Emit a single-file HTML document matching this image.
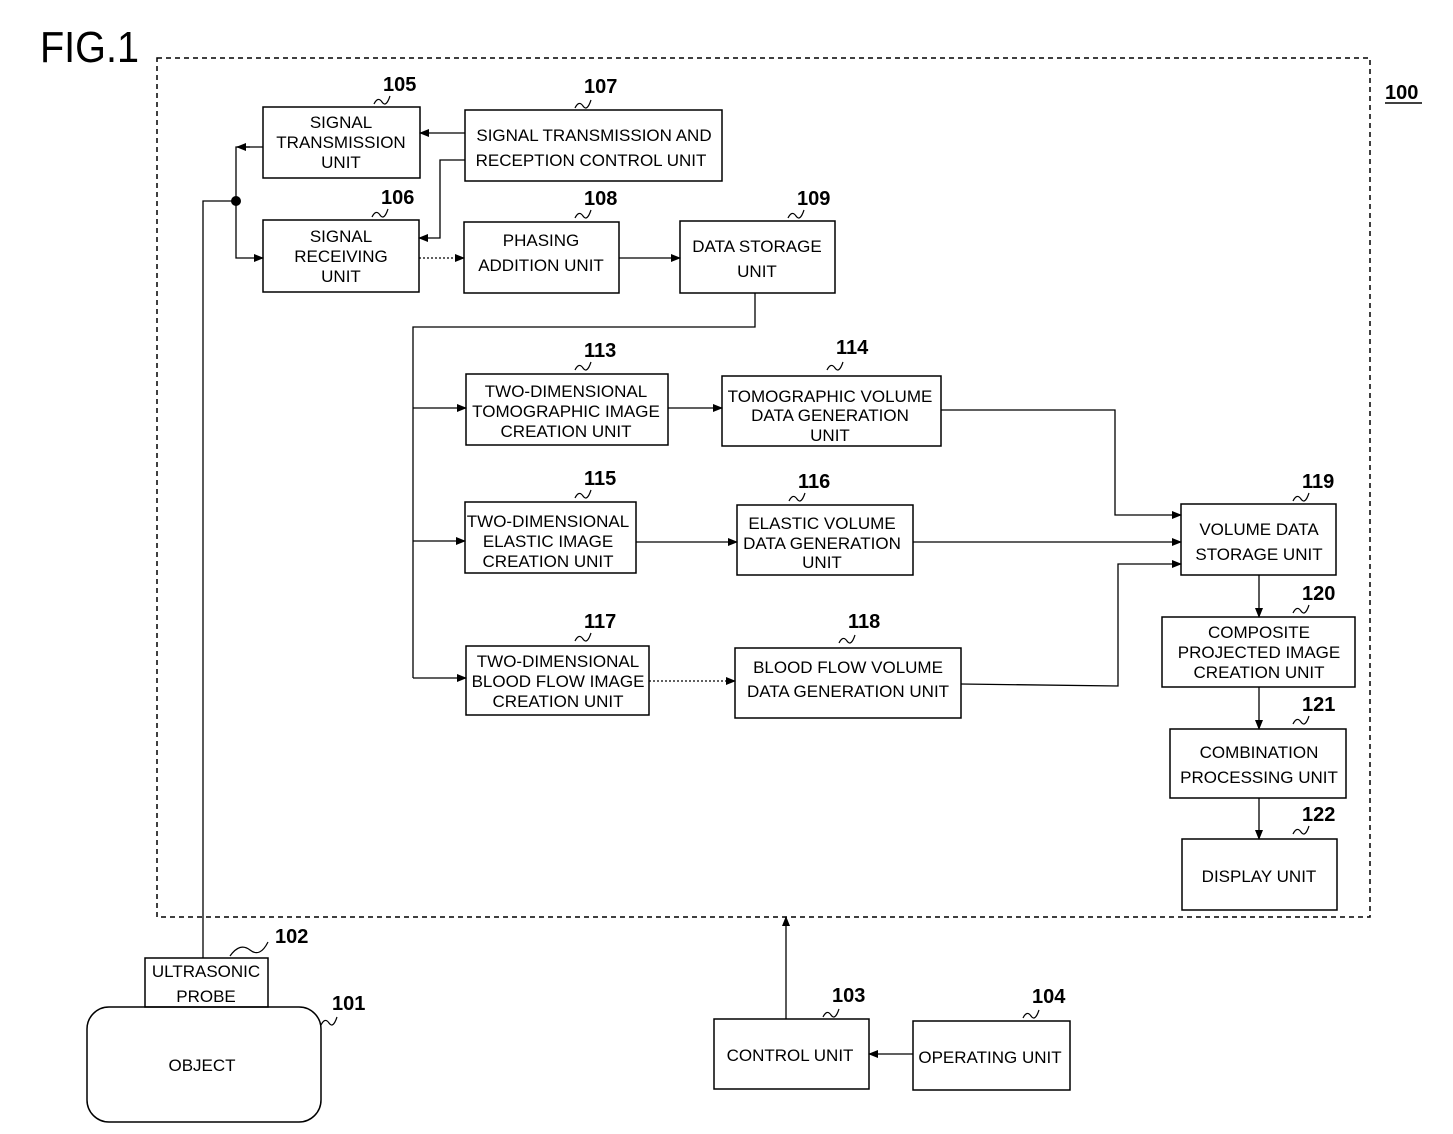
<!DOCTYPE html>
<html><head><meta charset="utf-8"><style>
html,body{margin:0;padding:0;background:#fff}
svg{display:block}
text{font-family:"Liberation Sans",sans-serif;fill:#000}
.t{font-size:17px;text-anchor:middle}
.n{font-size:20px;font-weight:bold}
</style></head><body>
<svg width="1453" height="1134" viewBox="0 0 1453 1134" xmlns="http://www.w3.org/2000/svg">
<defs><marker id="a" markerWidth="10" markerHeight="8" refX="9" refY="4" orient="auto" markerUnits="userSpaceOnUse"><path d="M0,0 L10,4 L0,8 z" fill="#000"/></marker></defs>
<text x="40" y="62" style="font-size:44px" transform="translate(40,0) scale(0.9,1) translate(-40,0)">FIG.1</text>
<rect x="157" y="58" width="1213" height="859" fill="none" stroke="#000" stroke-width="1.5" stroke-dasharray="5,4"/>
<text x="1385" y="99" class="n" style="font-size:20px">100</text>
<line x1="1385" y1="103" x2="1422" y2="103" stroke="#000" stroke-width="1.5"/>
<g fill="none" stroke="#000" stroke-width="1.5">
<rect x="263" y="107" width="157" height="71"/>
<rect x="465" y="110" width="257" height="71"/>
<rect x="263" y="220" width="156" height="72"/>
<rect x="464" y="222" width="155" height="71"/>
<rect x="680" y="221" width="155" height="72"/>
<rect x="466" y="374" width="202" height="71"/>
<rect x="722" y="376" width="219" height="70"/>
<rect x="465" y="502" width="171" height="71"/>
<rect x="737" y="505" width="176" height="70"/>
<rect x="466" y="646" width="183" height="69"/>
<rect x="735" y="648" width="226" height="70"/>
<rect x="1181" y="504" width="155" height="71"/>
<rect x="1162" y="617" width="193" height="70"/>
<rect x="1170" y="729" width="176" height="69"/>
<rect x="1182" y="839" width="155" height="71"/>
<rect x="145" y="958" width="123" height="49"/>
<rect x="87" y="1007" width="234" height="115" rx="22"/>
<rect x="714" y="1019" width="155" height="70"/>
<rect x="913" y="1021" width="157" height="69"/>
</g>
<g fill="none" stroke="#000" stroke-width="1.3">
<polyline points="203,958 203,201 236,201"/>
<polyline points="263,147 236,147 236,201" />
<polyline points="236,201 236,258 263,258" marker-end="url(#a)"/>
<line x1="250" y1="147" x2="237" y2="147" marker-end="url(#a)"/>
<line x1="465" y1="133" x2="420" y2="133" marker-end="url(#a)"/>
<polyline points="465,160 440,160 440,238 419,238" marker-end="url(#a)"/>
<line x1="419" y1="258" x2="464" y2="258" stroke-dasharray="2,2" marker-end="url(#a)"/>
<line x1="619" y1="258" x2="680" y2="258" marker-end="url(#a)"/>
<polyline points="755,293 755,327 413,327 413,678"/>
<line x1="413" y1="408" x2="466" y2="408" marker-end="url(#a)"/>
<line x1="413" y1="541" x2="465" y2="541" marker-end="url(#a)"/>
<line x1="413" y1="678" x2="466" y2="678" marker-end="url(#a)"/>
<line x1="668" y1="408" x2="722" y2="408" marker-end="url(#a)"/>
<line x1="636" y1="542" x2="737" y2="542" marker-end="url(#a)"/>
<line x1="649" y1="681" x2="735" y2="681" stroke-dasharray="2,2" marker-end="url(#a)"/>
<polyline points="941,410 1115,410 1115,515 1181,515" marker-end="url(#a)"/>
<line x1="913" y1="542" x2="1181" y2="542" marker-end="url(#a)"/>
<polyline points="961,684 1118,686 1118,564 1181,564" marker-end="url(#a)"/>
<line x1="1259" y1="575" x2="1259" y2="617" marker-end="url(#a)"/>
<line x1="1259" y1="687" x2="1259" y2="729" marker-end="url(#a)"/>
<line x1="1259" y1="798" x2="1259" y2="839" marker-end="url(#a)"/>
<line x1="786" y1="1019" x2="786" y2="917" marker-end="url(#a)"/>
<line x1="913" y1="1054" x2="869" y2="1054" marker-end="url(#a)"/>
</g>
<circle cx="236" cy="201" r="5" fill="#000"/>
<g class="t">
<text x="341" y="128">SIGNAL</text><text x="341" y="148">TRANSMISSION</text><text x="341" y="168">UNIT</text>
<text x="594" y="141">SIGNAL TRANSMISSION AND</text><text x="591" y="166">RECEPTION CONTROL UNIT</text>
<text x="341" y="242">SIGNAL</text><text x="341" y="262">RECEIVING</text><text x="341" y="282">UNIT</text>
<text x="541" y="246">PHASING</text><text x="541" y="271">ADDITION UNIT</text>
<text x="757" y="252">DATA STORAGE</text><text x="757" y="277">UNIT</text>
<text x="566" y="397">TWO-DIMENSIONAL</text><text x="566" y="417">TOMOGRAPHIC IMAGE</text><text x="566" y="437">CREATION UNIT</text>
<text x="830" y="402">TOMOGRAPHIC VOLUME</text><text x="830" y="421">DATA GENERATION</text><text x="830" y="441">UNIT</text>
<text x="548" y="527">TWO-DIMENSIONAL</text><text x="548" y="547">ELASTIC IMAGE</text><text x="548" y="567">CREATION UNIT</text>
<text x="822" y="529">ELASTIC VOLUME</text><text x="822" y="549">DATA GENERATION</text><text x="822" y="568">UNIT</text>
<text x="558" y="667">TWO-DIMENSIONAL</text><text x="558" y="687">BLOOD FLOW IMAGE</text><text x="558" y="707">CREATION UNIT</text>
<text x="848" y="673">BLOOD FLOW VOLUME</text><text x="848" y="697">DATA GENERATION UNIT</text>
<text x="1259" y="535">VOLUME DATA</text><text x="1259" y="560">STORAGE UNIT</text>
<text x="1259" y="638">COMPOSITE</text><text x="1259" y="658">PROJECTED IMAGE</text><text x="1259" y="678">CREATION UNIT</text>
<text x="1259" y="758">COMBINATION</text><text x="1259" y="783">PROCESSING UNIT</text>
<text x="1259" y="882">DISPLAY UNIT</text>
<text x="206" y="977">ULTRASONIC</text><text x="206" y="1002">PROBE</text>
<text x="202" y="1071">OBJECT</text>
<text x="790" y="1061">CONTROL UNIT</text>
<text x="990" y="1063">OPERATING UNIT</text>
</g>
<g class="n">
<text x="383" y="91">105</text><text x="584" y="93">107</text>
<text x="381" y="204">106</text><text x="584" y="205">108</text><text x="797" y="205">109</text>
<text x="584" y="357">113</text><text x="836" y="354">114</text>
<text x="584" y="485">115</text><text x="798" y="488">116</text>
<text x="584" y="628">117</text><text x="848" y="628">118</text>
<text x="1302" y="488">119</text><text x="1302" y="600">120</text><text x="1302" y="711">121</text><text x="1302" y="821">122</text>
<text x="275" y="943">102</text><text x="332" y="1010">101</text>
<text x="832" y="1002">103</text><text x="1032" y="1003">104</text>
</g>
<g fill="none" stroke="#000" stroke-width="1.2">
<path d="M374,104 q4,-8 8,-2 t8,-6"/><path d="M575,108 q4,-8 8,-2 t8,-6"/>
<path d="M372,217 q4,-8 8,-2 t8,-6"/><path d="M575,218 q4,-8 8,-2 t8,-6"/><path d="M788,218 q4,-8 8,-2 t8,-6"/>
<path d="M575,370 q4,-8 8,-2 t8,-6"/><path d="M827,370 q4,-8 8,-2 t8,-6"/>
<path d="M575,498 q4,-8 8,-2 t8,-6"/><path d="M789,501 q4,-8 8,-2 t8,-6"/>
<path d="M575,641 q4,-8 8,-2 t8,-6"/><path d="M839,643 q4,-8 8,-2 t8,-6"/>
<path d="M1293,501 q4,-8 8,-2 t8,-6"/><path d="M1293,613 q4,-8 8,-2 t8,-6"/><path d="M1293,724 q4,-8 8,-2 t8,-6"/><path d="M1293,834 q4,-8 8,-2 t8,-6"/>
<path d="M230,956 q10,-14 20,-6 t18,-8"/><path d="M321,1025 q4,-8 8,-2 t8,-6"/>
<path d="M823,1017 q4,-8 8,-2 t8,-6"/><path d="M1023,1018 q4,-8 8,-2 t8,-6"/>
</g>
</svg>
</body></html>
